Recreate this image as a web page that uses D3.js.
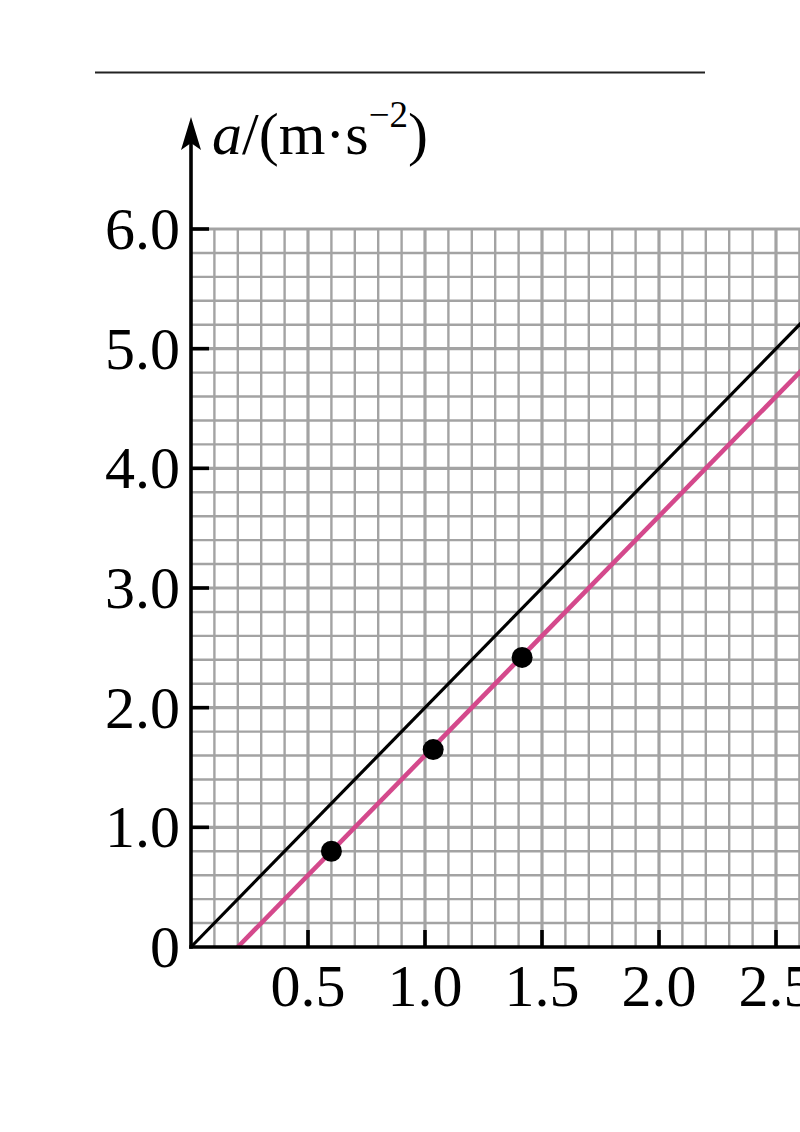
<!DOCTYPE html>
<html>
<head>
<meta charset="utf-8">
<script src="https://cdn.jsdelivr.net/npm/d3@7"></script>
<style>
  html, body { margin: 0; padding: 0; background: #fff; overflow: hidden; }
  svg { display: block; }
</style>
</head>
<body>
<svg id="chart" width="800" height="1132"></svg>
<script>
// ---- data ----
const xTickValues = [0.5, 1.0, 1.5, 2.0, 2.5];
const xTickLabels = ["0.5", "1.0", "1.5", "2.0", "2.5"];
const yTickValues = [0, 1, 2, 3, 4, 5, 6];
const yTickLabels = ["0", "1.0", "2.0", "3.0", "4.0", "5.0", "6.0"];
const pointF = [0.60, 1.035, 1.415];
const pointA = [0.80, 1.65, 2.42];
const blackLineF = [0, 2.8];
const blackLineA = [0, 5.6];
const pinkLineF = [0.2, 2.8];
const pinkLineA = [0, 5.2];

// ---- scales ----
const x = d3.scaleLinear().domain([0, 2.5]).range([191, 776]);
const y = d3.scaleLinear().domain([0, 6]).range([947, 229]);

const svg = d3.select("#chart");
const font = "'Liberation Serif', 'Times New Roman', serif";

// top rule
svg.append("line").attr("x1", 95).attr("x2", 705).attr("y1", 72.5).attr("y2", 72.5)
  .attr("stroke", "#222").attr("stroke-width", 1.8);

// grid
const grid = svg.append("g");
const xMax = 2.8;
const xGrid = d3.range(1, Math.round(xMax * 10) + 1).map(i => i / 10);
const yGrid = d3.range(1, 31).map(i => i / 5);
const gridColor = "#a3a3a3";
grid.selectAll("line.v").data(xGrid).join("line")
  .attr("x1", d => x(d)).attr("x2", d => x(d))
  .attr("y1", y(6)).attr("y2", y(0))
  .attr("stroke", gridColor)
  .attr("stroke-width", d => Math.abs(d * 2 - Math.round(d * 2)) < 1e-6 ? 3.2 : 2.4);
grid.selectAll("line.h").data(yGrid).join("line")
  .attr("x1", x(0)).attr("x2", x(xMax))
  .attr("y1", d => y(d)).attr("y2", d => y(d))
  .attr("stroke", gridColor)
  .attr("stroke-width", d => Math.abs(d - Math.round(d)) < 1e-6 ? 3.2 : 2.4);

// fitted lines
const lineGen = d3.line().x(d => x(d[0])).y(d => y(d[1]));
svg.append("path").datum(blackLineF.map((f, i) => [f, blackLineA[i]]))
  .attr("d", lineGen).attr("stroke", "#000").attr("stroke-width", 3.2).attr("fill", "none");
svg.append("path").datum(pinkLineF.map((f, i) => [f, pinkLineA[i]]))
  .attr("d", lineGen).attr("stroke", "#d4498c").attr("stroke-width", 4.6).attr("fill", "none");

// axes
const axisG = svg.append("g").attr("stroke", "#000").attr("stroke-width", 3.6);
axisG.append("line").attr("x1", x(0) - 1.8).attr("x2", 820).attr("y1", y(0)).attr("y2", y(0));
axisG.append("line").attr("x1", x(0)).attr("x2", x(0)).attr("y1", y(0) + 1.8).attr("y2", 140);
svg.append("path")
  .attr("d", `M${x(0)},117 L${x(0) - 10},150 L${x(0)},143 L${x(0) + 10},150 Z`)
  .attr("fill", "#000");

// ticks
axisG.selectAll("line.yt").data(yTickValues.slice(1)).join("line")
  .attr("x1", x(0)).attr("x2", x(0) + 18)
  .attr("y1", d => y(d)).attr("y2", d => y(d));
axisG.selectAll("line.xt").data(xTickValues).join("line")
  .attr("x1", d => x(d)).attr("x2", d => x(d))
  .attr("y1", y(0)).attr("y2", y(0) - 17);

// tick labels
svg.selectAll("text.yl").data(yTickValues).join("text")
  .attr("x", 180).attr("y", d => y(d) + 20)
  .attr("text-anchor", "end")
  .attr("font-family", font).attr("font-size", 60)
  .text((d, i) => yTickLabels[i]);
svg.selectAll("text.xl").data(xTickValues).join("text")
  .attr("x", d => x(d)).attr("y", 1006)
  .attr("text-anchor", "middle")
  .attr("font-family", font).attr("font-size", 60)
  .text((d, i) => xTickLabels[i]);

// axis title
const t = svg.append("text").attr("x", 212).attr("y", 154)
  .attr("font-family", font).attr("font-size", 60);
t.append("tspan").attr("font-style", "italic").text("a");
t.append("tspan").text("/(m·s");
t.append("tspan").attr("font-size", 37).attr("dy", -27).text("−2");
t.append("tspan").attr("dy", 27).text(")");

// data points
svg.selectAll("circle.pt").data(pointF).join("circle")
  .attr("cx", d => x(d)).attr("cy", (d, i) => y(pointA[i]))
  .attr("r", 10.5).attr("fill", "#000");
</script>
</body>
</html>
